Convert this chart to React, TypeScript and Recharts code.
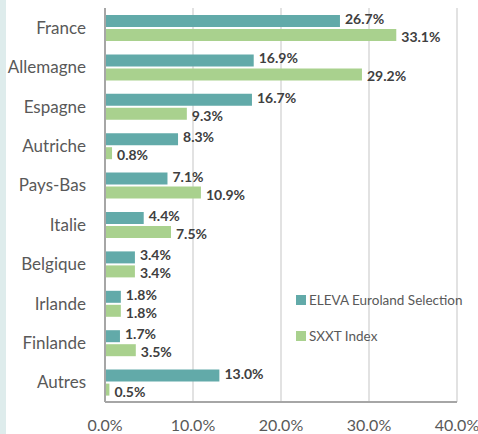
import React from 'react';
import {
  BarChart, Bar, XAxis, YAxis, CartesianGrid, Legend, LabelList,
} from 'recharts';

// pays, du haut vers le bas
const countries = [
  'France', 'Allemagne', 'Espagne', 'Autriche', 'Pays-Bas',
  'Italie', 'Belgique', 'Irlande', 'Finlande', 'Autres',
];
const elevaWeights = [26.7, 16.9, 16.7, 8.3, 7.1, 4.4, 3.4, 1.8, 1.7, 13.0];
const sxxtWeights = [33.1, 29.2, 9.3, 0.8, 10.9, 7.5, 3.4, 1.8, 3.5, 0.5];
const xTicks = [0, 10, 20, 30, 40];

const TEAL = '#62aaa9';
const GREEN = '#a9d18e';
const FONT = 'Lato, "Open Sans", sans-serif';

const data = countries.map((name, i) => ({
  name,
  eleva: elevaWeights[i],
  sxxt: sxxtWeights[i],
}));

const pct = (v: unknown) => (typeof v === 'number' ? `${v.toFixed(1)}%` : String(v));

function LegendBox(props: any) {
  const items = props.payload ?? [];
  return (
    <div style={{ fontFamily: FONT, fontSize: 13.5, color: '#595959' }}>
      {items.map((it: any) => (
        <div key={it.value} style={{ display: 'flex', alignItems: 'center', height: 36 }}>
          <span style={{ width: 10, height: 10, background: it.color, marginRight: 3, display: 'inline-block' }} />
          <span>{it.value}</span>
        </div>
      ))}
    </div>
  );
}

const labelStyle = { fill: '#404040', fontSize: 14, fontWeight: 700, fontFamily: FONT };

export default function App() {
  return (
    <div style={{ position: 'fixed', left: 0, top: 0, width: 478, height: 434, background: '#fff' }}>
      <div style={{ position: 'absolute', left: 0, top: 0, width: 6, height: 434, background: '#deecec' }} />
      <BarChart
        width={478}
        height={434}
        data={data}
        layout="vertical"
        margin={{ top: 8, right: 21, left: 0, bottom: 0 }}
        barSize={12}
        barGap={2}
      >
        <CartesianGrid horizontal={false} stroke="#d9d9d9" strokeWidth={1.5} />
        <XAxis
          type="number"
          domain={[0, 40]}
          ticks={xTicks}
          tickFormatter={(v: number) => `${v.toFixed(1)}%`}
          tickLine={false}
          tickMargin={12}
          height={32}
          axisLine={{ stroke: '#a6a6a6', strokeWidth: 2 }}
          tick={{ fill: '#595959', fontSize: 16, fontFamily: FONT }}
          interval={0}
        />
        <YAxis
          type="category"
          dataKey="name"
          width={105}
          tickLine={false}
          tickMargin={13}
          axisLine={{ stroke: '#a6a6a6', strokeWidth: 2 }}
          tick={{ fill: '#595959', fontSize: 17, fontFamily: FONT }}
          interval={0}
        />
        <Legend
          layout="vertical"
          align="center"
          verticalAlign="middle"
          content={<LegendBox />}
          wrapperStyle={{ position: 'absolute', left: 296, top: 282, width: 180 }}
        />
        <Bar dataKey="eleva" name="ELEVA Euroland Selection" fill={TEAL} isAnimationActive={false}>
          <LabelList
            dataKey="eleva"
            position="right"
            offset={5}
            dy={-2}
            formatter={pct}
            style={labelStyle}
          />
        </Bar>
        <Bar dataKey="sxxt" name="SXXT Index" fill={GREEN} isAnimationActive={false}>
          <LabelList
            dataKey="sxxt"
            position="right"
            offset={5}
            dy={2}
            formatter={pct}
            style={labelStyle}
          />
        </Bar>
      </BarChart>
    </div>
  );
}
